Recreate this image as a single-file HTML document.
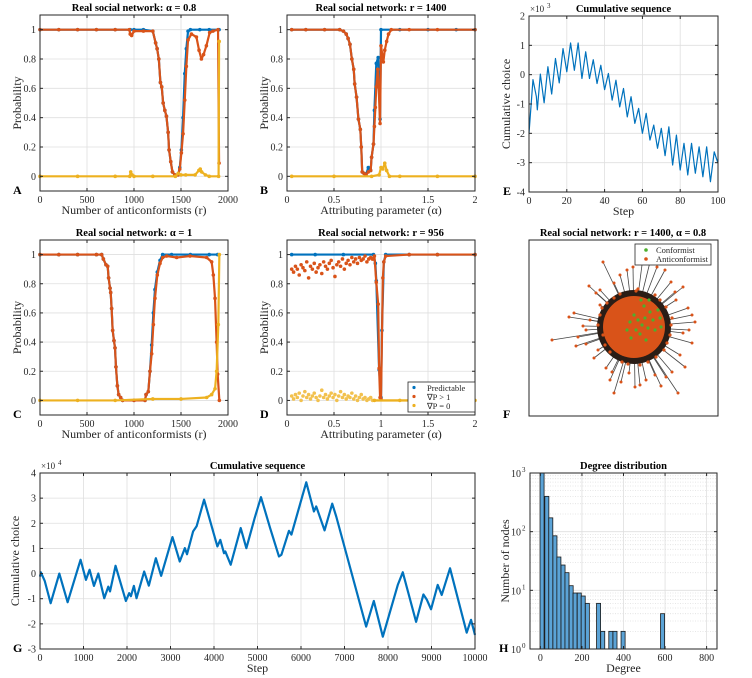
<!DOCTYPE html>
<html><head><meta charset="utf-8"><style>
html,body{margin:0;padding:0;background:#fff;}
svg{display:block;font-family:"Liberation Serif",serif;}
</style></head><body>
<svg id="fig" width="752" height="678" viewBox="0 0 752 678" xmlns="http://www.w3.org/2000/svg"></svg>
<script>
// ===== Panel A data (alpha = 0.8) =====
const aBlueR = [0,200,400,600,800,960,1000,1100,1200,1230,1246,1264,1281,1295,1310,1328,1345,1363,1373,1391,1409,1434,1469,1487,1504,1522,1540,1557,1575,1600,1700,1800,1905];
const aBlueV = [1,1,1,1,1,1,1,1,0.99,0.91,0.87,0.8,0.64,0.61,0.5,0.45,0.41,0.3,0.18,0.1,0.03,0.01,0.01,0.06,0.18,0.4,0.7,0.87,0.99,1,1,1,1];
const aOrangeR = [0,200,400,600,800,950,960,975,1000,1100,1200,1230,1246,1264,1281,1295,1310,1328,1345,1363,1373,1391,1409,1434,1469,1487,1504,1522,1540,1557,1575,1611,1664,1692,1717,1740,1770,1805,1840,1894,1905];
const aOrangeV = [1,1,1,1,1,1,0.97,0.96,0.99,0.99,0.99,0.91,0.87,0.8,0.64,0.61,0.5,0.45,0.41,0.3,0.18,0.1,0.03,0.01,0.01,0.05,0.16,0.29,0.52,0.75,0.93,0.97,0.95,0.86,0.8,0.83,0.89,0.98,0.99,1,0.09];
const aYellowR = [0,400,800,955,965,980,1000,1200,1440,1470,1500,1550,1650,1690,1705,1720,1760,1800,1900,1905,1906];
const aYellowV = [0,0,0,0,0.03,0.01,0,0,0,0.02,0.01,0.01,0.01,0.04,0.05,0.03,0.01,0,0,0.92,0.92];
// ===== Panel B data (r = 1400) =====
const bBlueA = [0.05,0.2,0.4,0.56,0.6,0.63,0.65,0.67,0.69,0.71,0.72,0.74,0.76,0.78,0.79,0.8,0.82,0.84,0.865,0.89,0.9,0.92,0.93,0.95,0.97,0.99,1.0,1.2,1.5,1.8,2.0];
const bBlueV = [1,1,1,1,0.99,0.97,0.94,0.9,0.8,0.73,0.63,0.54,0.39,0.32,0.2,0.03,0.02,0.01,0.06,0.04,0.13,0.22,0.45,0.77,0.81,0.39,1,1,1,1,1];
const bOrangeA = [0.05,0.2,0.4,0.56,0.6,0.63,0.65,0.67,0.69,0.71,0.72,0.74,0.76,0.78,0.79,0.8,0.82,0.84,0.865,0.89,0.9,0.92,0.93,0.94,0.95,0.965,0.975,0.99,1.0,1.025,1.04,1.06,1.08,1.11,1.3,1.6,2.0];
const bOrangeV = [1,1,1,1,0.99,0.97,0.94,0.9,0.8,0.73,0.63,0.54,0.39,0.32,0.2,0.03,0.02,0.01,0.03,0.04,0.13,0.22,0.34,0.47,0.61,0.73,0.61,0.36,0.89,0.78,0.86,0.92,0.97,1,1,1,1];
const bYellowA = [0.05,0.5,0.9,0.98,1.0,1.02,1.04,1.06,1.09,1.2,1.6,2.0];
const bYellowV = [0,0,0,0.01,0.06,0.05,0.09,0.04,0,0,0,0];
// ===== Panel C data (alpha = 1) =====
const cBlueR = [0,200,400,600,656,674,702,720,730,745,752,762,773,787,798,808,823,837,858,879,1000,1117,1128,1152,1170,1188,1206,1223,1248,1277,1305,1400,1600,1800,1890];
const cBlueV = [1,1,1,1,1,0.97,0.93,0.92,0.84,0.77,0.74,0.63,0.48,0.41,0.36,0.23,0.1,0.04,0.02,0,0,0,0.04,0.06,0.2,0.38,0.6,0.76,0.88,0.96,1,1,1,1,1];
const cOrangeR = [0,200,400,600,656,674,702,720,730,745,752,762,773,787,798,808,823,837,858,879,1000,1117,1128,1152,1170,1188,1206,1223,1248,1277,1305,1348,1454,1596,1773,1826,1844,1862,1879,1890,1908];
const cOrangeV = [1,1,1,1,1,0.97,0.93,0.92,0.84,0.77,0.74,0.63,0.48,0.41,0.36,0.23,0.1,0.04,0.02,0,0,0,0.04,0.06,0.2,0.32,0.52,0.7,0.86,0.94,0.98,0.99,0.98,0.99,0.98,0.95,0.86,0.7,0.4,0.18,0];
const cYellowR = [0,400,800,1200,1500,1773,1826,1862,1879,1897,1908];
const cYellowV = [0,0,0,0.01,0.01,0.02,0.04,0.08,0.2,0.52,1.0];
// ===== Panel D data (r = 956) =====
const dNoisyA = [0.05,0.07,0.09,0.11,0.13,0.15,0.17,0.19,0.21,0.23,0.25,0.27,0.29,0.31,0.33,0.35,0.37,0.39,0.41,0.43,0.45,0.47,0.49,0.51,0.53,0.55,0.57,0.59,0.61,0.63,0.65,0.67,0.69,0.71,0.73,0.75,0.77,0.79,0.81,0.83,0.85,0.87,0.89,0.91];
const dOrangeNoisyV = [0.9,0.88,0.92,0.9,0.86,0.93,0.91,0.89,0.95,0.84,0.92,0.9,0.94,0.88,0.91,0.93,0.87,0.95,0.92,0.9,0.94,0.96,0.91,0.85,0.93,0.95,0.92,0.97,0.9,0.94,0.96,0.93,0.98,0.95,0.97,0.94,0.98,0.96,0.97,0.99,0.95,0.97,0.98,0.97];
const dYellowNoisyV = [0.03,0.01,0.04,0.02,0.05,0,0.03,0.06,0.02,0.04,0.01,0.03,0.05,0.02,0,0.03,0.07,0.02,0.04,0.01,0.03,0.05,0.02,0.04,0,0.03,0.06,0.02,0.04,0.01,0.03,0.02,0.05,0.01,0.03,0,0.02,0.04,0.01,0.02,0,0.01,0.02,0];
const dBlueA = [0.05,0.3,0.6,0.92,0.94,0.95,0.98,1.0,1.01,1.03,1.05,1.3,1.6,2.0];
const dBlueV = [1,1,1,1,0.94,0.82,0.21,0.02,0.48,0.95,1,1,1,1];
const dOrangeA = [0.91,0.93,0.95,0.97,0.98,0.99,1.0,1.02,1.03,1.05,1.3,1.6,2.0];
const dOrangeV = [0.97,0.99,0.81,0.66,0.22,0.02,0.01,0.84,0.95,0.99,1,1,1];
const dYellowA = [0.93,1.2,1.6,2.0];
const dYellowV = [0,0,0,0];
// ===== Panel E data (cumulative, x10^3) =====
const eSteps = [0,2.1,3.9,4.4,6,8,10,12,14,16,18,20,22,24,26,28,30,32,34,36,38,40,42,44,46,48,50,52,54,56,58,60,62,64,66,68,70,72,74,76,78,80,82,84,86,88,90,92,94,96,98,100];
const eValues = [-2.0,-0.17,-0.75,-1.2,0.02,-0.96,0.27,-0.66,0.55,-0.28,0.89,0.1,1.08,0.15,1.08,-0.13,0.78,-0.13,0.51,-0.3,0.32,-0.51,0.04,-0.87,-0.19,-1.1,-0.47,-1.44,-0.75,-1.66,-1.15,-2.0,-1.32,-2.23,-1.72,-2.51,-1.83,-2.76,-1.78,-3.08,-2.06,-3.25,-2.34,-3.42,-2.34,-3.36,-2.46,-3.48,-2.46,-3.65,-2.63,-3.02];
// ===== Panel G data (cumulative, x10^4) =====
const gSteps = [0,20,110,245,444,635,933,1056,1140,1240,1340,1477,1570,1610,1737,1974,2050,2090,2158,2219,2395,2502,2663,2785,3045,3213,3330,3380,3520,3600,3772,4078,4145,4230,4260,4384,4614,4744,4935,5080,5290,5493,5550,5723,5780,6121,6297,6350,6542,6718,6810,7498,7674,7881,8225,8340,8646,8814,8890,8990,9143,9235,9426,9809,9908,10000];
const gValues = [-0.12,0.05,-0.3,-1.18,0,-1.14,0.55,-0.25,0.15,-0.49,0,-0.98,-0.52,-0.71,0.31,-1.09,-0.78,-0.9,-0.49,-0.98,0.08,-0.48,0.61,-0.09,1.45,0.48,1.01,0.77,1.68,1.88,2.94,1.08,1.34,0.81,0.88,0.35,1.81,1.01,2.21,3.04,1.81,0.68,0.75,1.7,1.55,3.63,2.47,2.67,1.72,2.78,2.27,-2.11,-1.09,-2.51,-0.45,0.05,-1.92,-0.83,-1.03,-1.42,-0.45,-0.85,0.21,-2.35,-1.84,-2.44];
// ===== Panel H data (degree histogram) =====
const hDegreeCenters = [8,31,50,70,89,109,128,148,167,187,206,226,280,300,339,359,398,588];
const hCounts = [1000,400,172,85,37,27,20,12,9,9,8,6,6,2,2,2,2,4];
// tick labels
const probTicks = [0,0.2,0.4,0.6,0.8,1];
const probTickLabels = ["0","0.2","0.4","0.6","0.8","1"];
const rTicks = [0,500,1000,1500,2000];
const alphaTicks = [0,0.5,1,1.5,2];
const eXTicks = [0,20,40,60,80,100];
const eYTicks = [-4,-3,-2,-1,0,1,2];
const gXTicks = [0,1000,2000,3000,4000,5000,6000,7000,8000,9000,10000];
const gYTicks = [-3,-2,-1,0,1,2,3,4];
const hXTicks = [0,200,400,600,800];
const hYExp = [0,1,2,3];

const NS = "http://www.w3.org/2000/svg";
const svg = document.getElementById('fig');
const BLUE = "#0072BD", ORANGE = "#D95319", YELLOW = "#EDB120";
function el(tag, attrs, parent) {
  const e = document.createElementNS(NS, tag);
  for (const k in attrs) e.setAttribute(k, attrs[k]);
  (parent || svg).appendChild(e);
  return e;
}
function txt(s, attrs, parent) { const t = el('text', attrs, parent); t.textContent = s; return t; }

function makeAxes(c) {
  const g = el('g', {});
  
  
  const sx = v => c.x0 + (v - c.xmin) / (c.xmax - c.xmin) * (c.x1 - c.x0);
  const sy = c.log ? (v => c.y1 - (Math.log10(v) - c.ymin) / (c.ymax - c.ymin) * (c.y1 - c.y0))
                   : (v => c.y1 - (v - c.ymin) / (c.ymax - c.ymin) * (c.y1 - c.y0));
  el('rect', {x: c.x0, y: c.y0, width: c.x1 - c.x0, height: c.y1 - c.y0, fill: '#fff'}, g);
  const grid = el('g', {stroke: '#dfdfdf', 'stroke-width': 0.8}, g);
  
  
  if (c.log) {
    for (let e = c.ymin; e < c.ymax; e++) for (let m = 2; m <= 9; m++) {
      const y = sy(m * Math.pow(10, e));
      el('line', {x1: c.x0, x2: c.x1, y1: y, y2: y, 'stroke-dasharray': '1,1.5'}, grid);
    }
  }
  c.xticks.forEach(v => { const x = sx(v); el('line', {x1: x, x2: x, y1: c.y0, y2: c.y1}, grid); });
  c.yticks.forEach(v => { const y = sy(c.log ? Math.pow(10, v) : v); el('line', {x1: c.x0, x2: c.x1, y1: y, y2: y}, grid); });
  const plot = el('g', {}, g);
  
  
  const frame = el('g', {}, g);
  const finish = () => {
    svg.appendChild(frame);
    el('rect', {x: c.x0, y: c.y0, width: c.x1 - c.x0, height: c.y1 - c.y0, fill: 'none', stroke: '#262626', 'stroke-width': 1}, frame);
    c.xticks.forEach((v, i) => {
      const x = sx(v);
      el('line', {x1: x, x2: x, y1: c.y1, y2: c.y1 - 3, stroke: '#262626'}, frame);
      el('line', {x1: x, x2: x, y1: c.y0, y2: c.y0 + 3, stroke: '#262626'}, frame);
      const t = txt(c.xlabels ? c.xlabels[i] : String(v), {x: x, y: c.y1 + 12, 'font-size': 10, 'text-anchor': 'middle', fill: '#262626'}, frame);
      
      
    });
    c.yticks.forEach((v, i) => {
      const y = sy(c.log ? Math.pow(10, v) : v);
      el('line', {x1: c.x0, x2: c.x0 + 3, y1: y, y2: y, stroke: '#262626'}, frame);
      el('line', {x1: c.x1, x2: c.x1 - 3, y1: y, y2: y, stroke: '#262626'}, frame);
      if (c.log) {
        const t = txt('10', {x: c.x0 - 9, y: y + 4, 'font-size': 10, 'text-anchor': 'end', fill: '#262626'}, frame);
        
        
        txt(String(v), {x: c.x0 - 8, y: y - 1, 'font-size': 7, fill: '#262626'}, frame);
      } else {
        const t = txt(c.ylabels ? c.ylabels[i] : String(v), {x: c.x0 - 4, y: y + 3.5, 'font-size': 10, 'text-anchor': 'end', fill: '#262626'}, frame);
        
        
      }
    });
    const tt = txt(c.title, {x: (c.x0 + c.x1) / 2, y: c.y0 - 4, 'font-size': 10.5, 'font-weight': 'bold', 'text-anchor': 'middle', fill: '#000'}, frame);
    
    
    const xl = txt(c.xtitle, {x: (c.x0 + c.x1) / 2, y: c.y1 + 23, 'font-size': 12, 'text-anchor': 'middle', fill: '#262626'}, frame);
    
    
    const cy = (c.y0 + c.y1) / 2;
    const yl = txt(c.ytitle, {x: c.ylx, y: cy, 'font-size': 12, 'text-anchor': 'middle', fill: '#262626', transform: 'rotate(-90 ' + c.ylx + ' ' + cy + ')'}, frame);
    
    
    const lt = txt(c.letter, {x: c.letterX, y: c.y1 + 3, 'font-size': 12, 'font-weight': 'bold', fill: '#000'}, frame);
    
    
    if (c.mult) {
      const m = txt('\u00d710', {x: c.x0 + 1, y: c.y0 - 4, 'font-size': 9, fill: '#262626'}, frame);
      
      
      txt(c.mult, {x: c.x0 + 18, y: c.y0 - 8, 'font-size': 7, fill: '#262626'}, frame);
    }
  };
  return {sx, sy, plot, finish, c};
}

function series(ax, xs, ys, color, name, withLine, lw) {
  const g = el('g', {}, ax.plot);
  
  
  if (withLine) {
    const d = xs.map((x, i) => (i ? 'L' : 'M') + ax.sx(x).toFixed(2) + ' ' + ax.sy(ys[i]).toFixed(2)).join('');
    el('path', {d: d, fill: 'none', stroke: color, 'stroke-width': lw || 2.2, 'stroke-linejoin': 'round'}, g);
  }
  xs.forEach((x, i) => {
    const p = el('circle', {cx: ax.sx(x), cy: ax.sy(ys[i]), r: 1.8, fill: color}, g);
    
    
  });
}

// Panel A
const A = makeAxes({name: 'panel-a', x0: 40, x1: 228, y0: 15, y1: 191, xmin: 0, xmax: 2000, ymin: -0.1, ymax: 1.1, xticks: rTicks, yticks: probTicks, ylabels: probTickLabels, title: 'Real social network: \u03b1 = 0.8', xtitle: 'Number of anticonformists (r)', ytitle: 'Probability', ylx: 21, letter: 'A', letterX: 13});
series(A, aBlueR, aBlueV, BLUE, 'predictable-series', true);
series(A, aOrangeR, aOrangeV, ORANGE, 'gradient-gt1-series', true);
series(A, aYellowR, aYellowV, YELLOW, 'gradient-eq0-series', true);
A.finish();
// Panel B
const B = makeAxes({name: 'panel-b', x0: 287, x1: 475, y0: 15, y1: 191, xmin: 0, xmax: 2, ymin: -0.1, ymax: 1.1, xticks: alphaTicks, yticks: probTicks, ylabels: probTickLabels, title: 'Real social network: r = 1400', xtitle: 'Attributing parameter (\u03b1)', ytitle: 'Probability', ylx: 268, letter: 'B', letterX: 260});
series(B, bBlueA, bBlueV, BLUE, 'predictable-series', true);
series(B, bOrangeA, bOrangeV, ORANGE, 'gradient-gt1-series', true);
series(B, bYellowA, bYellowV, YELLOW, 'gradient-eq0-series', true);
B.finish();
// Panel C
const C = makeAxes({name: 'panel-c', x0: 40, x1: 228, y0: 240, y1: 415, xmin: 0, xmax: 2000, ymin: -0.1, ymax: 1.1, xticks: rTicks, yticks: probTicks, ylabels: probTickLabels, title: 'Real social network: \u03b1 = 1', xtitle: 'Number of anticonformists (r)', ytitle: 'Probability', ylx: 21, letter: 'C', letterX: 13});
series(C, cBlueR, cBlueV, BLUE, 'predictable-series', true);
series(C, cOrangeR, cOrangeV, ORANGE, 'gradient-gt1-series', true);
series(C, cYellowR, cYellowV, YELLOW, 'gradient-eq0-series', true);
C.finish();
// Panel D
const D = makeAxes({name: 'panel-d', x0: 287, x1: 475, y0: 240, y1: 415, xmin: 0, xmax: 2, ymin: -0.1, ymax: 1.1, xticks: alphaTicks, yticks: probTicks, ylabels: probTickLabels, title: 'Real social network: r = 956', xtitle: 'Attributing parameter (\u03b1)', ytitle: 'Probability', ylx: 268, letter: 'D', letterX: 260});
series(D, dBlueA, dBlueV, BLUE, 'predictable-series', true);
series(D, dNoisyA, dOrangeNoisyV, ORANGE, 'gradient-gt1-noisy', false);
series(D, dOrangeA, dOrangeV, ORANGE, 'gradient-gt1-series', true);
series(D, dNoisyA, dYellowNoisyV, '#F2C14E', 'gradient-eq0-noisy', false);
series(D, dYellowA, dYellowV, YELLOW, 'gradient-eq0-series', true, 2.4);
D.finish();
// legend D
(function(){
  const lg = el('g', {});
  
  
  el('rect', {x: 408, y: 382, width: 67, height: 30, fill: '#fff', stroke: '#262626', 'stroke-width': 0.8}, lg);
  const items = [['Predictable', BLUE], ['\u2207P > 1', ORANGE], ['\u2207P = 0', YELLOW]];
  items.forEach((it, i) => {
    const y = 390 + i * 9;
    el('circle', {cx: 414, cy: y - 2.5, r: 1.6, fill: it[1]}, lg);
    const t = txt(it[0], {x: 427, y: y + 1, 'font-size': 8.5, fill: '#262626'}, lg);
    
    
  });
})();
// Panel E
const E = makeAxes({name: 'panel-e', x0: 529, x1: 718, y0: 16, y1: 192, xmin: 0, xmax: 100, ymin: -4, ymax: 2, xticks: eXTicks, yticks: eYTicks, title: 'Cumulative sequence', xtitle: 'Step', ytitle: 'Cumulative choice', ylx: 510, letter: 'E', letterX: 503, mult: '3'});
series(E, eSteps, eValues, BLUE, 'cumulative-line', true, 1.2);
E.plot.querySelectorAll('circle').forEach(c => c.remove());
E.finish();
// Panel G
const G = makeAxes({name: 'panel-g', x0: 40, x1: 475, y0: 473, y1: 649, xmin: 0, xmax: 10000, ymin: -3, ymax: 4, xticks: gXTicks, yticks: gYTicks, title: 'Cumulative sequence', xtitle: 'Step', ytitle: 'Cumulative choice', ylx: 19, letter: 'G', letterX: 13, mult: '4'});
series(G, gSteps, gValues, BLUE, 'cumulative-line', true, 2.2);
G.plot.querySelectorAll('circle').forEach(c => c.remove());
G.finish();
// Panel H
const H = makeAxes({name: 'panel-h', x0: 530, x1: 717, y0: 473, y1: 649, xmin: -50, xmax: 850, ymin: 0, ymax: 3, log: true, xticks: hXTicks, yticks: hYExp, title: 'Degree distribution', xtitle: 'Degree', ytitle: 'Number of nodes', ylx: 509, letter: 'H', letterX: 499});
hDegreeCenters.forEach((d, i) => {
  const x0 = H.sx(d - 9.75), x1 = H.sx(d + 9.75);
  const y = H.sy(hCounts[i]);
  const b = el('rect', {x: x0, y: y, width: x1 - x0, height: 649 - y, fill: '#5BA3D6', stroke: '#1a1a1a', 'stroke-width': 0.8}, H.plot);
  
  
});
H.finish();

// Panel F (network)
(function(){
  const g = el('g', {});
  
  
  el('rect', {x: 529, y: 240, width: 189, height: 176, fill: '#fff', stroke: '#262626', 'stroke-width': 1}, g);
  const t = txt('Real social network: r = 1400, \u03b1 = 0.8', {x: 623, y: 236, 'font-size': 10.5, 'font-weight': 'bold', 'text-anchor': 'middle'}, g);
  
  
  const l = txt('F', {x: 503, y: 418, 'font-size': 12, 'font-weight': 'bold'}, g);
  
  
  const cx = 634, cy = 327;
  const ends = [[603,262],[552,340],[569,317],[574,313],[578,337],[576,346],[589,286],[596,293],[614,393],[621,382],[635,387],[643,257],[661,386],[678,393],[685,367],[692,343],[695,322],[692,315],[683,287],[671,282],[657,267],[633,267],[614,283],[666,377],[646,380],[629,373],[606,368],[594,358],[586,330],[683,333],[676,300],[689,330],[600,305],[590,320],[665,270],[650,262],[620,275],[610,380],[655,375],[680,355],[688,308],[598,350],[586,344],[640,385],[627,270],[672,372],[600,290],[612,372],[675,292],[583,326]];
  ends.forEach(p => {
    el('line', {x1: cx, y1: cy, x2: p[0], y2: p[1], stroke: '#444', 'stroke-width': 0.8}, g);
  });
  el('circle', {cx: cx, cy: cy, r: 37, fill: '#2a1d16'}, g);
  el('circle', {cx: cx, cy: cy, r: 31, fill: ORANGE}, g);
  const ring = [[600,315],[603,335],[610,352],[622,362],[640,365],[656,357],[667,343],[671,325],[666,307],[655,295],[638,289],[620,294],[607,303],[598,325],[614,298],[660,300],[670,335],[648,362],[628,364],[605,345],[636,291],[664,350],[602,308],[672,318]];
  ring.forEach(p => {
    const n = el('circle', {cx: p[0], cy: p[1], r: 1.6, fill: ORANGE}, g);
    
    
  });
  ends.forEach(p => {
    const n = el('circle', {cx: p[0], cy: p[1], r: 1.5, fill: ORANGE}, g);
    
    
  });
  const greens = [[638,320],[642,325],[636,330],[645,318],[640,334],[648,328],[634,315],[650,312],[644,306],[653,320],[631,338],[646,340],[658,310],[630,322],[655,330],[641,300],[660,318],[627,330],[649,300],[661,327]];
  greens.forEach(p => {
    const n = el('circle', {cx: p[0], cy: p[1], r: 1.6, fill: '#4DAF2E'}, g);
    
    
  });
  const lg = el('g', {}, g);
  
  
  el('rect', {x: 635, y: 244, width: 76, height: 21, fill: '#fff', stroke: '#262626', 'stroke-width': 0.8}, lg);
  el('circle', {cx: 646, cy: 250, r: 1.8, fill: '#4DAF2E'}, lg);
  el('circle', {cx: 646, cy: 259, r: 1.8, fill: ORANGE}, lg);
  const e1 = txt('Conformist', {x: 656, y: 253, 'font-size': 8.5, fill: '#262626'}, lg);
  
  
  const e2 = txt('Anticonformist', {x: 656, y: 262, 'font-size': 8.5, fill: '#262626'}, lg);
  
  
})();
</script>
</body></html>
